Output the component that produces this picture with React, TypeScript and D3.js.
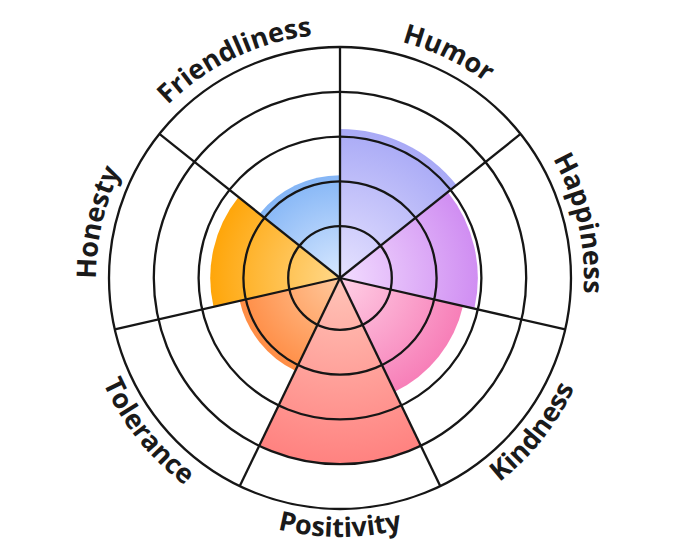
import * as d3 from "d3";
import { useEffect, useRef } from "react";

const categories = [
  "Humor",
  "Happiness",
  "Kindness",
  "Positivity",
  "Tolerance",
  "Honesty",
  "Friendliness",
];
const values = [3.17, 2.92, 2.66, 4.0, 2.14, 2.74, 2.14];
const ringTicks = [1, 2, 3, 4, 5];
const innerColors = [
  "#e6e2ff",
  "#f2dcff",
  "#ffd0e6",
  "#ffc4b8",
  "#ffc89c",
  "#ffd88a",
  "#d8e8ff",
];
const outerColors = [
  "#a9aaf6",
  "#d08ef2",
  "#f77fb8",
  "#ff8280",
  "#ff8d45",
  "#ffa60a",
  "#85b6f6",
];

const WIDTH = 680;
const HEIGHT = 557;
const CX = 340;
const CY = 278;

export default function App() {
  const svgRef = useRef<SVGSVGElement>(null);

  useEffect(() => {
    const svg = d3.select(svgRef.current);
    svg.selectAll("*").remove();
    svg.attr("width", WIDTH).attr("height", HEIGHT);

    const n = categories.length;
    const step = (2 * Math.PI) / n;
    const rScale = d3.scaleLinear().domain([0, 5]).range([7, 231]);
    const outerR = rScale(5);

    const defs = svg.append("defs");
    const g = svg.append("g").attr("transform", `translate(${CX},${CY})`);

    // gradients per sector, light at centre to saturated at the edge
    categories.forEach((c, i) => {
      const grad = defs
        .append("radialGradient")
        .attr("id", `grad-${i}`)
        .attr("gradientUnits", "userSpaceOnUse")
        .attr("cx", 0)
        .attr("cy", 0)
        .attr("r", rScale(values[i]));
      grad.append("stop").attr("offset", "0%").attr("stop-color", innerColors[i]);
      grad.append("stop").attr("offset", "100%").attr("stop-color", outerColors[i]);
    });

    const arc = d3
      .arc<number>()
      .innerRadius(0)
      .outerRadius((d) => rScale(d))
      .startAngle((_, i) => i * step)
      .endAngle((_, i) => (i + 1) * step);

    // sectors
    g.selectAll(".sector")
      .data(values)
      .enter()
      .append("path")
      .attr("class", "sector")
      .attr("d", (d, i) => arc(d, i) as string)
      .attr("fill", (_, i) => `url(#grad-${i})`);

    // rings
    g.selectAll(".ring")
      .data(ringTicks)
      .enter()
      .append("circle")
      .attr("class", "ring")
      .attr("r", (d) => rScale(d))
      .attr("fill", "none")
      .attr("stroke", "#161616")
      .attr("stroke-width", 2.3);

    // spokes
    g.selectAll(".spoke")
      .data(categories)
      .enter()
      .append("line")
      .attr("class", "spoke")
      .attr("x1", 0)
      .attr("y1", 0)
      .attr("x2", (_, i) => d3.pointRadial(i * step, outerR)[0])
      .attr("y2", (_, i) => d3.pointRadial(i * step, outerR)[1])
      .attr("stroke", "#161616")
      .attr("stroke-width", 2.3);

    // curved labels (paths live in the same translated space as the text)
    const half = step / 2;
    categories.forEach((c, i) => {
      const mid = i * step + half;
      const lower = Math.cos(mid) < 0;
      const r = lower ? 259 : 244;
      const a0 = d3.pointRadial(mid - half, r);
      const a1 = d3.pointRadial(mid + half, r);
      const d = lower
        ? `M${a1[0]},${a1[1]} A${r},${r} 0 0 0 ${a0[0]},${a0[1]}`
        : `M${a0[0]},${a0[1]} A${r},${r} 0 0 1 ${a1[0]},${a1[1]}`;
      defs.append("path").attr("id", `label-path-${i}`).attr("d", d);
      g.append("text")
        .attr("font-family", "'Open Sans', sans-serif")
        .attr("font-weight", 700)
        .attr("font-size", 27)
        .attr("fill", "#1a1a1a")
        .append("textPath")
        .attr("href", `#label-path-${i}`)
        .attr("startOffset", "50%")
        .attr("text-anchor", "middle")
        .text(c);
    });
  }, []);

  return (
    <svg
      ref={svgRef}
      style={{ position: "absolute", left: 0, top: 0, background: "#fff" }}
    />
  );
}
